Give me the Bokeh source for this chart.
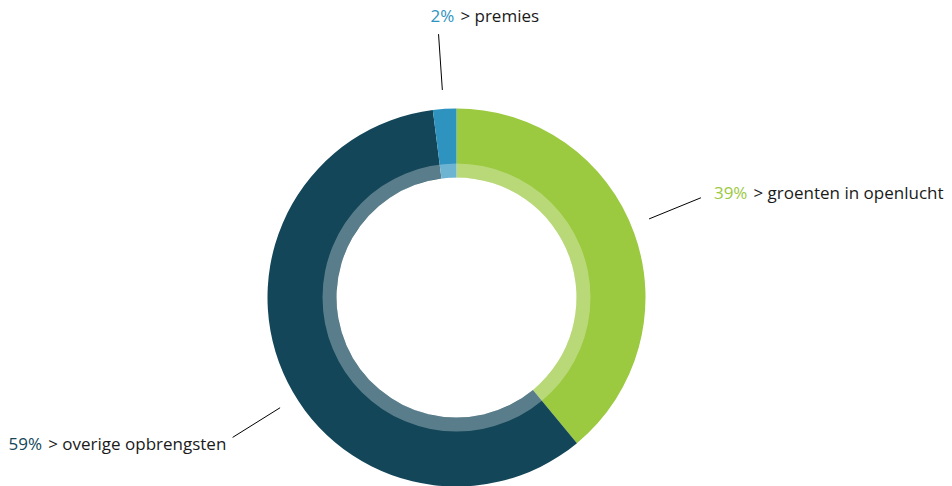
import math
from bokeh.plotting import figure
from bokeh.models import Range1d, ColumnDataSource
from bokeh.core.properties import value
from bokeh.embed import file_html
from bokeh.resources import INLINE

# ---- data ----
categories = ["groenten in openlucht", "overige opbrengsten", "premies"]
percentages = [39, 59, 2]
colors = ["#9BC93F", "#124658", "#2E93BF"]

# ---- layout (pixel-like units) ----
W, H = 952, 486
CX, CY = 456, -297          # centre (y is negative pixel row)
R_OUT, R_BAND, R_IN = 189, 134, 120
CONN_R0, CONN_R1 = 208, 264
conn_angles = [67.8, 238.0, 356.1]        # clockwise from top, degrees
label_offsets = [(13, 5), (-224, -6), (-8, 19)]  # from connector end
FONT = "Open Sans"
FS = 17

p = figure(width=W, height=H, output_backend="svg", toolbar_location=None,
           x_range=Range1d(0, W), y_range=Range1d(-H, 0),
           min_border=0, outline_line_color=None)
p.axis.visible = False
p.grid.visible = False
p.background_fill_color = "white"
p.border_fill_color = "white"

total = sum(percentages)
starts, ends = [], []
cum = 0.0
for v in percentages:
    starts.append(math.pi / 2 - 2 * math.pi * cum / total)
    cum += v
    ends.append(math.pi / 2 - 2 * math.pi * cum / total)

src = ColumnDataSource(dict(x=[CX] * 3, y=[CY] * 3, start=starts, end=ends,
                            color=colors))
p.annular_wedge(x="x", y="y", inner_radius=R_IN, outer_radius=R_OUT,
                start_angle="start", end_angle="end", direction="clock",
                fill_color="color", line_color=None, source=src)
# lighter inner band
p.annulus(x=CX, y=CY, inner_radius=R_IN, outer_radius=R_BAND,
          fill_color="white", fill_alpha=0.3, line_color=None)

# connectors and labels
def pct_width(s):
    w = 0
    for ch in s:
        w += 0.83 if ch == "%" else 0.572
    return w * FS

x0s, y0s, x1s, y1s = [], [], [], []
for i, (cat, v) in enumerate(zip(categories, percentages)):
    a = math.radians(conn_angles[i])
    x0 = CX + CONN_R0 * math.sin(a)
    y0 = CY + CONN_R0 * math.cos(a)
    x1 = CX + CONN_R1 * math.sin(a)
    y1 = CY + CONN_R1 * math.cos(a)
    x0s.append(x0); y0s.append(y0); x1s.append(x1); y1s.append(y1)
    dx, dy = label_offsets[i]
    tx, ty = x1 + dx, y1 + dy
    pct = f"{v}%"
    p.text(x=[tx], y=[ty], text=[pct], text_color=colors[i],
           text_font=value(FONT), text_font_size=f"{FS}px",
           text_align="left", text_baseline="middle")
    p.text(x=[tx + pct_width(pct) + 6], y=[ty], text=[f"> {cat}"],
           text_color="#1a1a1a", text_font=value(FONT),
           text_font_size=f"{FS}px", text_align="left",
           text_baseline="middle")

p.segment(x0=x0s, y0=y0s, x1=x1s, y1=y1s, line_color="#000000",
          line_width=1)

open("out.html", "w").write(file_html(p, INLINE))
